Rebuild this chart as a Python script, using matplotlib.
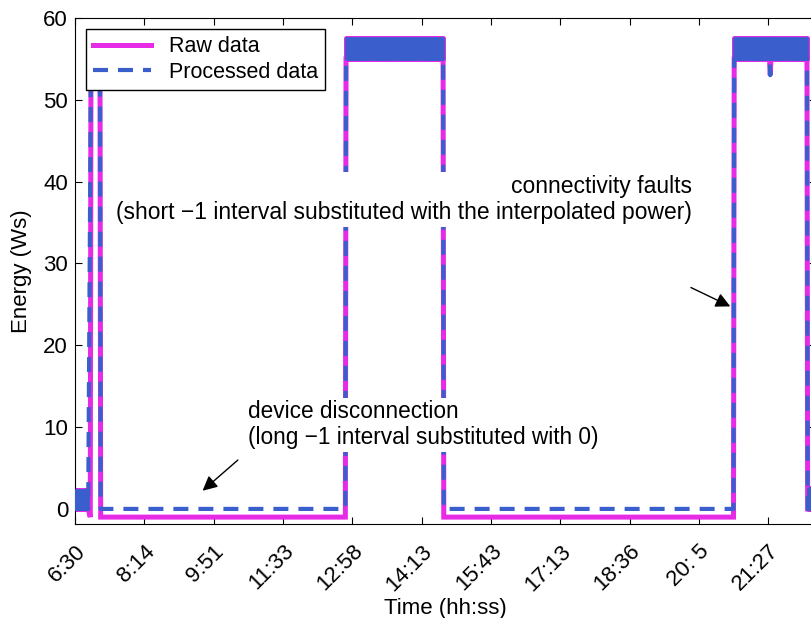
import numpy as np
import matplotlib.pyplot as plt

plt.rcParams['font.family'] = ['Liberation Sans', 'DejaVu Sans']
plt.rcParams['font.size'] = 16

# sample index -> clock label (one tick every 100 samples)
tick_pos = [0, 100, 200, 300, 400, 500, 600, 700, 800, 900, 1000]
tick_labels = ['6:30', '8:14', '9:51', '11:33', '12:58', '14:13',
               '15:43', '17:13', '18:36', '20: 5', '21:27']

# piecewise segments of the energy trace (dense noisy parts given as lo/hi band)
seg_start = [0, 23, 37, 391, 532, 951, 1004, 1057]
seg_end = [19, 36, 390, 531, 950, 1002, 1056, 1069]
raw_lo = [0, 55.3, -1, 55.0, -1, 55.0, 55.0, 0]
raw_hi = [2.3, 57.6, -1, 57.6, -1, 57.6, 57.6, 2.5]
proc_lo = [0, 55.3, 0, 55.0, 0, 55.0, 55.0, 0]
proc_hi = [2.3, 57.6, 0, 57.6, 0, 57.6, 57.6, 2.5]

# single samples between segments (None = not present in processed data)
spike_t = [22, 1003]
raw_spike = [-1, 53.0]
proc_spike = [None, 53.0]

raw_color = '#e62ae6'
proc_color = '#3a5fcd'


def build_path(lo, spikes):
    pts = []
    for s, e, v in zip(seg_start, seg_end, lo):
        pts.append((s, v))
        pts.append((e, v))
    for t, v in zip(spike_t, spikes):
        if v is not None:
            pts.append((t, v))
    pts.sort(key=lambda p: p[0])
    return np.array([p[0] for p in pts]), np.array([p[1] for p in pts])


fig = plt.figure(figsize=(8.12, 6.18), dpi=100)
ax = fig.add_axes([0.0924, 0.152, 0.9125, 0.819])

# raw data
rx, ry = build_path(raw_lo, raw_spike)
raw_line, = ax.plot(rx, ry, color=raw_color, lw=3.6, solid_joinstyle='miter',
                    label='Raw data', zorder=2)
for s, e, lo, hi in zip(seg_start, seg_end, raw_lo, raw_hi):
    if hi > lo:
        ax.fill_between([s, e], [lo, lo], [hi, hi], facecolor=raw_color,
                        edgecolor=raw_color, lw=3.6, zorder=2)

# processed data
px, py = build_path(proc_lo, proc_spike)
proc_line, = ax.plot(px, py, color=proc_color, lw=3.0, ls=(0, (3.6, 2.4)),
                     label='Processed data', zorder=3)
for s, e, lo, hi in zip(seg_start, seg_end, proc_lo, proc_hi):
    if hi > lo:
        ax.fill_between([s, e], [lo, lo], [hi, hi], facecolor=proc_color,
                        edgecolor=proc_color, lw=2.0, zorder=3)

ax.set_xlim(0, 1069)
ax.set_ylim(-1.85, 60)
ax.set_yticks([0, 10, 20, 30, 40, 50, 60])
ax.set_xticks(tick_pos)
ax.set_xticklabels(tick_labels, rotation=45, ha='right', rotation_mode='anchor')
ax.tick_params(direction='in', top=True, right=True, length=5, width=0.8)
ax.tick_params(axis='x', pad=12)
ax.tick_params(axis='y', pad=5)
ax.set_xlabel('Time (hh:ss)', labelpad=2)
ax.set_ylabel('Energy (Ws)', labelpad=8)

box = dict(facecolor='white', edgecolor='none', pad=2)
ax.text(250, 10.3, 'device disconnection\n(long \u22121 interval substituted with 0)',
        ha='left', va='center', linespacing=1.15, bbox=box, zorder=5,
        fontsize=16.3)
ax.text(890, 37.8, 'connectivity faults\n(short \u22121 interval substituted with the interpolated power)',
        ha='right', va='center', multialignment='right', linespacing=1.15,
        bbox=box, zorder=5, fontsize=16.5)

arrow = dict(arrowstyle='-|>', color='k', lw=1.0, mutation_scale=22)
ax.annotate('', xy=(181, 2.0), xytext=(238, 6.2), arrowprops=arrow, zorder=6)
ax.annotate('', xy=(949, 24.6), xytext=(885, 27.2), arrowprops=arrow, zorder=6)

leg = ax.legend(handles=[raw_line, proc_line], loc='upper left', fancybox=False,
                framealpha=1, edgecolor='k', borderaxespad=0.5,
                handlelength=2.7, handletextpad=0.8, borderpad=0.35,
                labelspacing=0.2, fontsize=15.5)
leg.get_frame().set_linewidth(1.0)
leg.set_zorder(10)

fig.savefig('out.png', dpi=100)
